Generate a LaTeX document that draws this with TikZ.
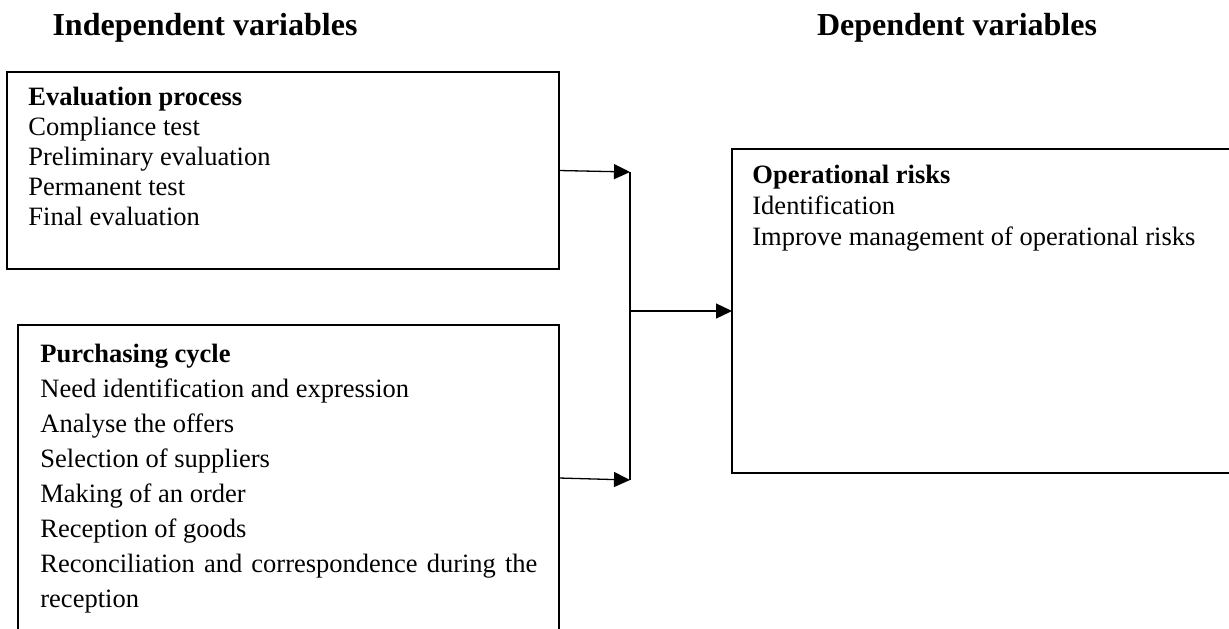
\documentclass[tikz,border=0pt]{standalone}
\usepackage{fontspec}
\setmainfont{Liberation Serif}
\usetikzlibrary{arrows.meta}
\begin{document}
\begin{tikzpicture}[x=0.5pt,y=-0.5pt,
  box/.style={draw=black, line width=1pt, inner sep=0pt, outer sep=0pt, anchor=north west},
  title/.style={font=\fontsize{16}{19}\selectfont\bfseries, anchor=base, inner sep=0pt},
  item/.style={font=\fontsize{13.25}{15.5}\selectfont, anchor=base west, inner sep=0pt},
  head/.style={item, font=\fontsize{13.25}{15.5}\selectfont\bfseries},
  link/.style={line width=0.65pt, draw=black},
  flow/.style={link, -{Triangle[length=8pt,width=7.5pt]}}
]
\useasboundingbox (0,0) rectangle (1229,628);
\clip (0,0) rectangle (1229,628);

% column titles
\node[title] (tind) at (205,35) {Independent variables};
\node[title] (tdep) at (957,35) {Dependent variables};

% boxes
\node[box, minimum width=276pt, minimum height=98.5pt] (eval) at (7,72) {};
\node[box, minimum width=270.5pt, minimum height=153pt] (purch) at (18,325) {};
\node[box, minimum width=264pt, minimum height=162pt] (risk) at (732,149) {};

% evaluation process
\node[head] (e0) at (28,105) {Evaluation process};
\foreach \t [count=\i] in {Compliance test, Preliminary evaluation, Permanent test, Final evaluation}
  \node[item] (e\i) at (28,105+30*\i) {\t};

% purchasing cycle
\node[head] (p0) at (40,362) {Purchasing cycle};
\foreach \t [count=\i] in {Need identification and expression, Analyse the offers, Selection of suppliers, Making of an order, Reception of goods}
  \node[item] (p\i) at (40,362+35*\i) {\t};
\node[item] (p6) at (40,572) {\makebox[248.5pt][s]{Reconciliation and correspondence during the}};
\node[item] (p7) at (40,607) {reception};

% operational risks
\node[head] (r0) at (752,183) {Operational risks};
\node[item] (r1) at (752,214) {Identification};
\node[item] (r2) at (752,245) {Improve management of operational risks};

% connectors
\coordinate (jt) at (630,172);
\coordinate (jm) at (630,311);
\coordinate (jb) at (630,480);
\draw[link] (jt) -- (jb);
\draw[flow] (eval.east) -- (jt);
\draw[flow] (purch.east) -- (jb);
\draw[flow] (jm) -- (risk.west);
\end{tikzpicture}
\end{document}
